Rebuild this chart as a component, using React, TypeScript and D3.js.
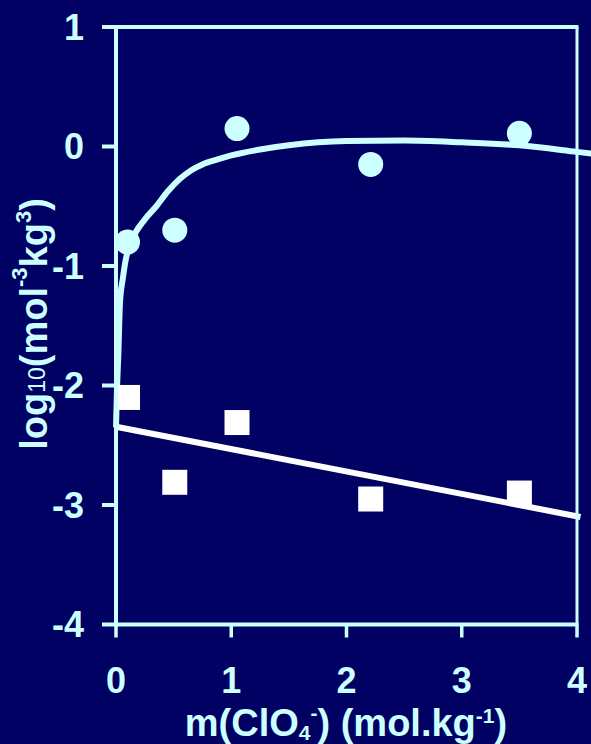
import React from "react";
import * as d3 from "d3";

// Measured points: m(ClO4-) in mol/kg and log10 K
const circleX = [0.1, 0.51, 1.05, 2.21, 3.5];
const circleY = [-0.8, -0.7, 0.15, -0.15, 0.11];
const squareX = [0.1, 0.51, 1.05, 2.21, 3.5];
const squareY = [-2.1, -2.81, -2.31, -2.95, -2.9];

// Fitted curve through the circle series
const fitCurveX = [0, 0.008, 0.02, 0.035, 0.06, 0.084, 0.136, 0.25, 0.35, 0.45, 0.555, 0.65, 0.75, 0.874, 1.0, 1.25, 1.5, 2.0, 2.5, 3.0, 3.5, 4.0, 4.13];
const fitCurveY = [-2.35, -2.05, -1.75, -1.3, -1.1, -0.95, -0.79, -0.61, -0.5, -0.375, -0.27, -0.2, -0.15, -0.11, -0.075, -0.025, 0.01, 0.045, 0.05, 0.035, 0.01, -0.045, -0.06];

// Fitted straight line through the square series
const fitLineX = [0, 4.03];
const fitLineY = [-2.345, -3.1];

const xTicks = [0, 1, 2, 3, 4];
const yTicks = [1, 0, -1, -2, -3, -4];

const W = 591;
const H = 744;
const BG = "#010063";
const AXIS = "#CCFFFF";
const FONT = "'Liberation Sans', Arial, sans-serif";

export default function App() {
  const x = d3.scaleLinear().domain([0, 4]).range([116, 577]);
  const y = d3.scaleLinear().domain([-4, 1]).range([624.5, 27]);

  const curve = d3
    .line<number>()
    .x((_, i) => x(fitCurveX[i]))
    .y((d) => y(d))
    .curve(d3.curveMonotoneX)(fitCurveY);

  const straight = d3
    .line<number>()
    .x((_, i) => x(fitLineX[i]))
    .y((d) => y(d))(fitLineY);

  const [x0, x1] = x.range();
  const [yb, yt] = y.range();
  const sq = 25;

  return (
    <svg
      width={W}
      height={H}
      style={{ position: "fixed", left: 0, top: 0, background: BG }}
      fontFamily={FONT}
    >
      <rect width={W} height={H} fill={BG} />

      {/* fits */}
      <path d={straight ?? ""} fill="none" stroke="#FFFFFF" strokeWidth={6} />
      <path d={curve ?? ""} fill="none" stroke={AXIS} strokeWidth={6} strokeLinejoin="round" />

      {/* data points */}
      {circleX.map((cx, i) => (
        <circle key={"c" + i} cx={x(cx)} cy={y(circleY[i])} r={12.5} fill={AXIS} />
      ))}
      {squareX.map((sx, i) => (
        <rect
          key={"s" + i}
          x={x(sx) - sq / 2}
          y={y(squareY[i]) - sq / 2}
          width={sq}
          height={sq}
          fill="#FFFFFF"
        />
      ))}

      {/* frame */}
      <g stroke={AXIS} strokeWidth={4} fill="none">
        <line x1={x0} y1={yt - 2} x2={x0} y2={yb + 2} />
        <line x1={x0} y1={yb} x2={x1 + 1.5} y2={yb} />
        <line x1={x0} y1={yt} x2={x1 + 1.5} y2={yt} />
        <line x1={x1} y1={yt} x2={x1} y2={yb} strokeWidth={3} />
        {yTicks.map((t) => (
          <line key={"yt" + t} x1={x0 - 14} y1={y(t)} x2={x0} y2={y(t)} />
        ))}
        {xTicks.map((t) => (
          <line key={"xt" + t} x1={x(t)} y1={yb} x2={x(t)} y2={yb + 13} strokeWidth={3.5} />
        ))}
      </g>

      {/* tick labels */}
      <g fill={AXIS} fontSize={36} fontWeight="bold">
        {yTicks.map((t) => (
          <text key={"yl" + t} x={84} y={y(t)} dy="0.36em" textAnchor="end">
            {t}
          </text>
        ))}
        {xTicks.map((t) => (
          <text key={"xl" + t} x={x(t)} y={693} textAnchor="middle">
            {t}
          </text>
        ))}
      </g>

      {/* axis titles */}
      <text x={346} y={736} textAnchor="middle" fill={AXIS} fontSize={38} fontWeight="bold">
        m(ClO
        <tspan fontSize={21} dy={4}>4</tspan>
        <tspan fontSize={21} dy={-20}>-</tspan>
        <tspan dy={16}>) (mol.kg</tspan>
        <tspan fontSize={21} dy={-13}>-1</tspan>
        <tspan dy={13}>)</tspan>
      </text>
      <text
        transform="translate(47,324) rotate(-90)"
        textAnchor="middle"
        fill={AXIS}
        fontSize={38}
        fontWeight="bold"
      >
        log
        <tspan fontSize={23} fontWeight="normal" dy={-2}>10</tspan>
        <tspan dy={2}>(mol</tspan>
        <tspan fontSize={22} dy={-20}>-3</tspan>
        <tspan dy={20}>kg</tspan>
        <tspan fontSize={22} dy={-16}>3</tspan>
        <tspan dy={16}>)</tspan>
      </text>
    </svg>
  );
}
